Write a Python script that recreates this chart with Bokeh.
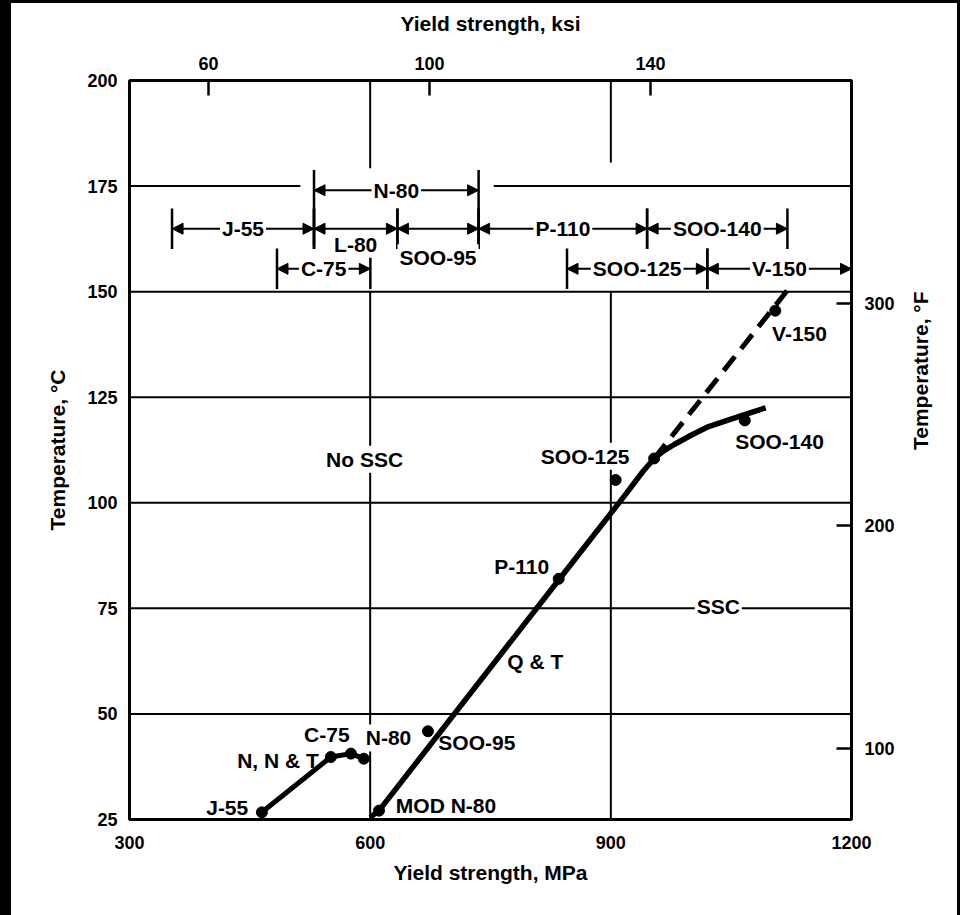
import math
from bokeh.plotting import figure
from bokeh.models import Range1d, LinearAxis, FixedTicker, Arrow, NormalHead, ColumnDataSource
from bokeh.layouts import column
from bokeh.embed import file_html
from bokeh.resources import INLINE
from bokeh.core.properties import value

# ---------------- data ----------------
mpa_ticks = [300, 600, 900, 1200]
degc_ticks = [25, 50, 75, 100, 125, 150, 175, 200]
ksi_ticks = [60, 100, 140]
degf_ticks = [100, 200, 300]

# N, N & T curve (MPa, degC)
nnt_x = [465, 551, 576, 592]
nnt_y = [26.7, 39.8, 40.6, 39.4]

# Q & T curve (solid)
qt_x = [600, 611, 835, 916, 940, 954, 966, 979, 1000, 1020, 1062, 1093]
qt_y = [25.5, 27.1, 81.7, 101.4, 107.4, 110.5, 112.3, 113.8, 116.0, 117.9, 120.6, 122.5]

# dashed branch toward V-150
v150_x = [954, 1120]
v150_y = [110.5, 150.3]

# data points
pt_x = [465, 551, 576, 592, 611, 672, 835, 906, 954, 1067, 1105]
pt_y = [26.7, 39.8, 40.6, 39.4, 27.1, 45.9, 82.0, 105.4, 110.5, 119.5, 145.5]

# point / region labels
lab_text = ["J-55", "N, N & T", "C-75", "SOO-95", "MOD N-80", "Q & T", "P-110", "SOO-140", "V-150"]
lab_x = [448, 536, 546, 685, 632, 771, 823, 1055, 1101]
lab_y = [27.8, 39.0, 45.1, 43.2, 28.3, 62.5, 85.0, 114.4, 140.2]
lab_align = ["right", "right", "center", "left", "left", "left", "right", "left", "left"]

box_text = ["N-80", "No SSC", "SSC", "SOO-125"]
box_x = [592, 593, 1034, 868]
box_y = [44.3, 110.3, 75.4, 111.0]
box_align = ["left", "center", "center", "center"]

# grade yield-strength ranges (ksi)
grade = ["J-55", "C-75", "L-80", "N-80", "SOO-95", "P-110", "SOO-125", "SOO-140", "V-150"]
ksi_lo = [53.4, 72.4, 79.1, 79.1, 94.2, 108.9, 124.9, 139.4, 150.3]
ksi_hi = [79.1, 89.3, 94.2, 108.9, 108.9, 139.4, 150.3, 164.8, 176.4]
grade_row = [2, 3, 2, 1, 2, 2, 3, 2, 3]
grade_label_place = ["on", "on", "below", "on", "below2", "on", "on", "on", "on"]

# ---------------- layout constants ----------------
FONT = "Liberation Sans"
ROW_Y = {1: 174.0, 2: 164.9, 3: 155.4}
LABEL_DY = {"on": 0.0, "below": -3.7, "below2": -6.9}
BAR = 4.8

p = figure(width=946, height=912, x_range=Range1d(300, 1200), y_range=Range1d(25, 200),
           output_backend="svg", toolbar_location=None,
           min_border_left=118, min_border_right=106, min_border_top=77, min_border_bottom=96,
           background_fill_color="white", border_fill_color="white")
p.extra_x_ranges = {"ksi": Range1d(45.7, 176.4)}
p.extra_y_ranges = {"degF": Range1d(68.1, 400.2)}
p.outline_line_color = "black"
p.outline_line_width = 3
p.grid.visible = False


def style_axis(ax, tick_in, label_standoff, title_standoff):
    ax.axis_line_color = None
    ax.major_tick_in = tick_in
    ax.major_tick_out = 0
    ax.major_tick_line_color = "black" if tick_in else None
    ax.major_tick_line_width = 2.5
    ax.minor_tick_line_color = None
    ax.major_label_text_font = FONT
    ax.major_label_text_font_style = "bold"
    ax.major_label_text_font_size = "18px"
    ax.major_label_text_color = "black"
    ax.major_label_standoff = label_standoff
    ax.axis_label_text_font = FONT
    ax.axis_label_text_font_style = "bold"
    ax.axis_label_text_font_size = "21px"
    ax.axis_label_text_color = "black"
    ax.axis_label_standoff = title_standoff


xa = p.xaxis[0]
xa.ticker = FixedTicker(ticks=mpa_ticks)
xa.axis_label = "Yield strength, MPa"
style_axis(xa, 0, 16, 9)

ya = p.yaxis[0]
ya.ticker = FixedTicker(ticks=degc_ticks)
ya.axis_label = "Temperature, °C"
style_axis(ya, 0, 12, 15)

top = LinearAxis(x_range_name="ksi", ticker=FixedTicker(ticks=ksi_ticks), axis_label="Yield strength, ksi")
style_axis(top, 15, 11, 19)
p.add_layout(top, "above")

right = LinearAxis(y_range_name="degF", ticker=FixedTicker(ticks=degf_ticks), axis_label="Temperature, °F")
style_axis(right, 15, 13, 23)
right.axis_label_orientation = math.pi / 2
p.add_layout(right, "right")

# ---------------- grid lines (broken where the chart breaks them) ----------------
gx0 = [300, 300, 300, 300, 300, 300, 754, 600, 600, 900, 900]
gx1 = [1200, 1200, 1200, 1200, 1200, 513, 1200, 600, 600, 900, 900]
gy0 = [50, 75, 100, 125, 150, 175, 175, 25, 179.2, 25, 180.6]
gy1 = [50, 75, 100, 125, 150, 175, 175, 150, 200, 150, 200]
p.segment(x0=gx0, y0=gy0, x1=gx1, y1=gy1, line_color="black", line_width=2)

# ---------------- grade range brackets ----------------
row_y = [ROW_Y[r] for r in grade_row]
lab_gy = [ROW_Y[r] + LABEL_DY[pl] for r, pl in zip(grade_row, grade_label_place)]
mid = [(a + b) / 2 for a, b in zip(ksi_lo, ksi_hi)]
bar_y0 = [(ROW_Y[2] - 4.0) if r == 1 else y - BAR for r, y in zip(grade_row, row_y)]
bar_y1 = [y + BAR for y in row_y]

bsrc = ColumnDataSource(dict(lo=ksi_lo, hi=ksi_hi, y=row_y, y0=bar_y0, y1=bar_y1,
                             mid=mid, ly=lab_gy, name=grade))
arrows = Arrow(start=NormalHead(size=11, fill_color="black", line_color="black"),
               end=NormalHead(size=11, fill_color="black", line_color="black"),
               x_start="lo", y_start="y", x_end="hi", y_end="y", source=bsrc,
               line_color="black", line_width=2, x_range_name="ksi", level="underlay")
p.add_layout(arrows)
p.segment(x0="lo", x1="lo", y0="y0", y1="y1", source=bsrc, x_range_name="ksi",
          line_color="black", line_width=2.5)
p.segment(x0="hi", x1="hi", y0="y0", y1="y1", source=bsrc, x_range_name="ksi",
          line_color="black", line_width=2.5)

# ---------------- curves ----------------
p.line(nnt_x, nnt_y, line_color="black", line_width=5)
p.line(qt_x, qt_y, line_color="black", line_width=5.5, line_join="round")
p.line(v150_x, v150_y, line_color="black", line_width=5, line_dash="18 10")
p.scatter(pt_x, pt_y, size=11, fill_color="black", line_color="black")

# ---------------- texts ----------------
p.text(x="mid", y="ly", text="name", source=bsrc, x_range_name="ksi",
       text_font=value(FONT), text_font_style="bold", text_font_size="21px",
       text_align="center", text_baseline="middle", text_color="black",
       background_fill_color="white", padding=2)

p.text(x=box_x, y=box_y, text=box_text, text_align=box_align,
       text_font=value(FONT), text_font_style="bold", text_font_size="21px",
       text_baseline="middle", text_color="black",
       background_fill_color="white", padding=2)

p.text(x=lab_x, y=lab_y, text=lab_text, text_align=lab_align,
       text_font=value(FONT), text_font_style="bold", text_font_size="21px",
       text_baseline="middle", text_color="black")

p.margin = (3, 3, 0, 11)
layout = column(p, styles={"background-color": "white",
                           "box-shadow": "inset 11px 3px 0 0 black, inset -3px 0 0 0 black"})

open("out.html", "w").write(file_html(layout, INLINE))
